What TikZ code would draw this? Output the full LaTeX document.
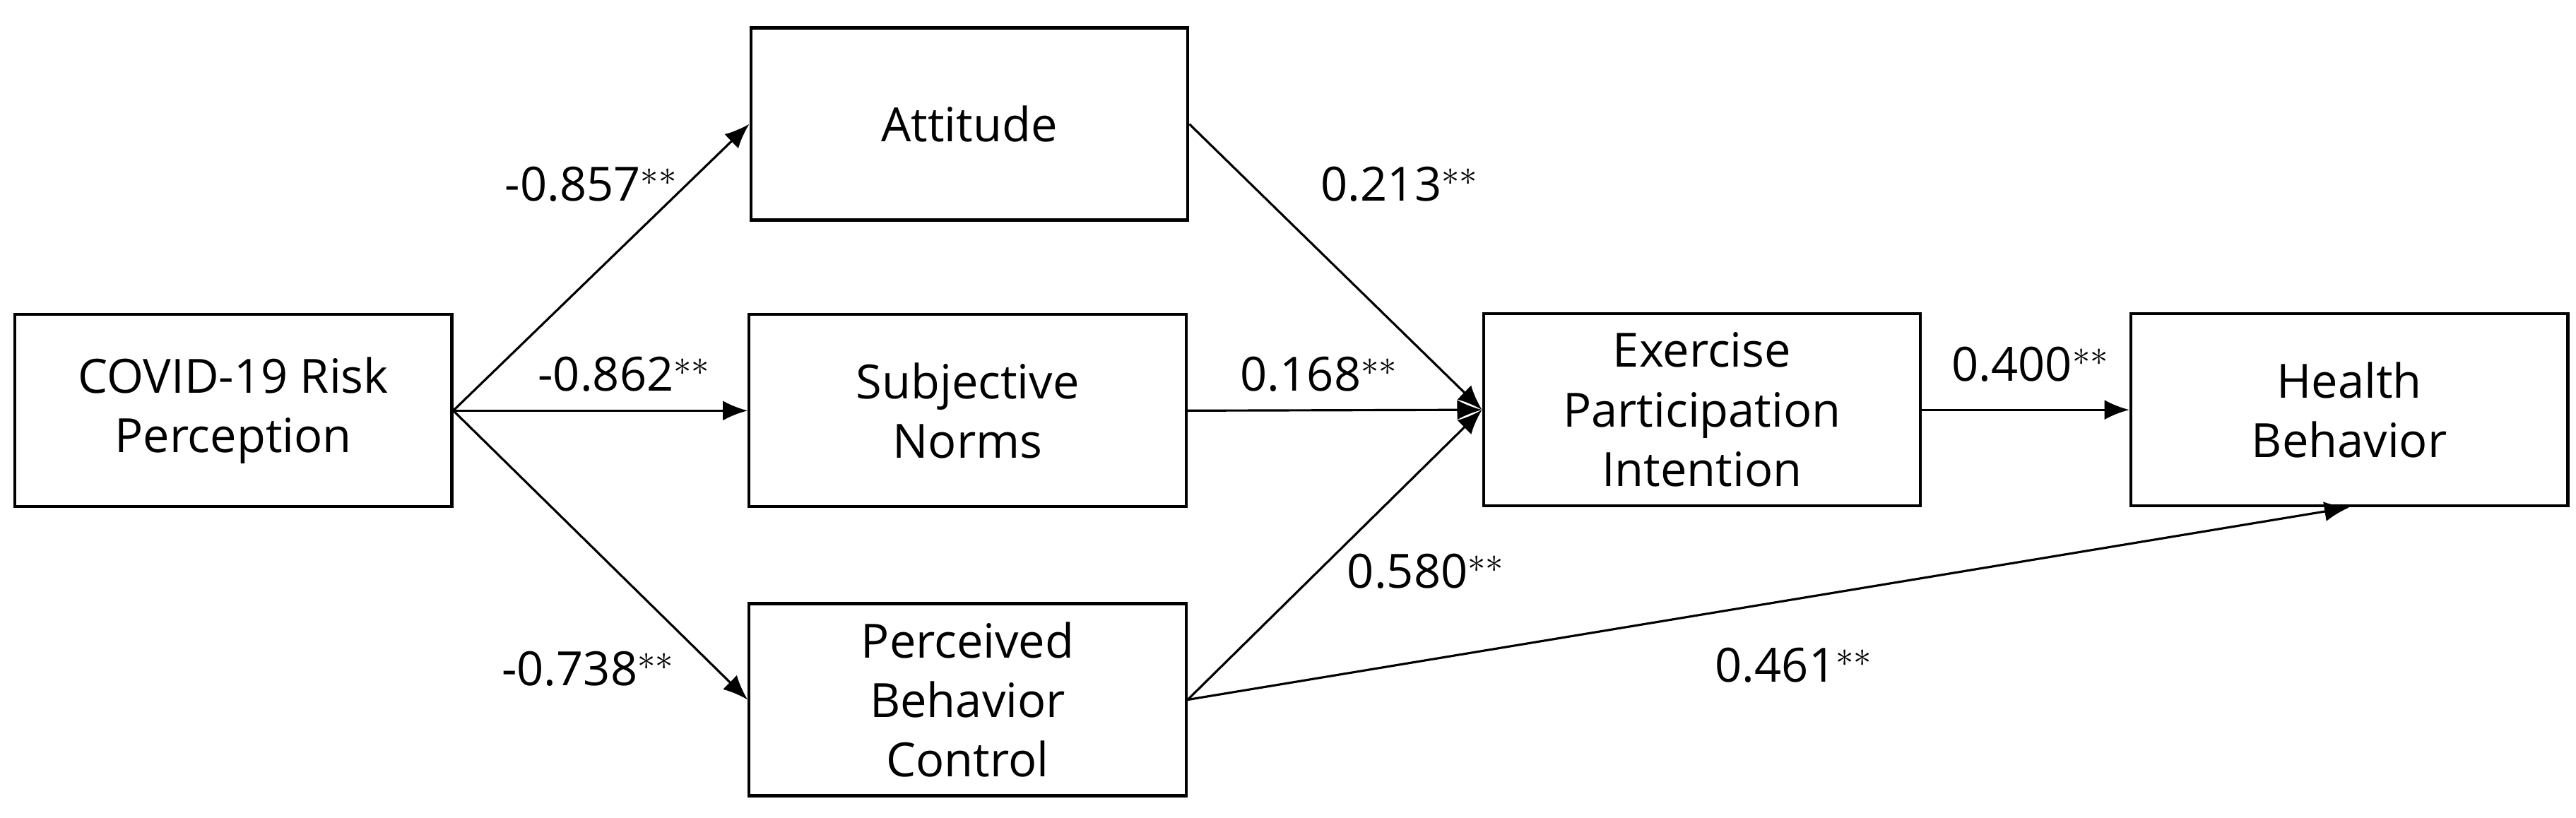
\documentclass[tikz,border=0pt]{standalone}
\usepackage{fontspec}
\setmainfont{Open Sans}
\usetikzlibrary{arrows.meta}
\begin{document}
\begin{tikzpicture}[x=0.02325cm,y=-0.02325cm,
  box/.style={draw,line width=1.2pt,minimum width=266*0.02325cm,minimum height=117*0.02325cm,align=center,font=\fontsize{19}{24}\selectfont,inner sep=0pt},
  arr/.style={line width=0.9pt,-{Latex[length=10pt,width=8pt]}},
  lab/.style={font=\fontsize{19}{24}\selectfont}]
\useasboundingbox (0,0) rectangle (1568,498);
\node[box] (c) at (142,250) {COVID-19 Risk\\Perception};
\node[box] (a) at (590,75.5) {Attitude};
\node[box] (s) at (589,250) {Subjective\\Norms};
\node[box] (p) at (589,426) {Perceived\\Behavior\\Control};
\node[box] (e) at (1036,249.5) {Exercise\\Participation\\Intention};
\node[box] (h) at (1430,249.5) {Health\\Behavior};
\draw[arr] (c.east) -- (a.west);
\draw[arr] (c.east) -- (s.west);
\draw[arr] (c.east) -- (p.west);
\draw[arr] (a.east) -- (e.west);
\draw[arr] (s.east) -- (e.west);
\draw[arr] (p.east) -- (e.west);
\draw[arr] (e.east) -- (h.west);
\draw[arr] (p.east) -- (h.south);
\node[lab] (l1) at (360,112) {-0.857$^{**}$};
\node[lab] (l2) at (380,228) {-0.862$^{**}$};
\node[lab] (l3) at (358,407) {-0.738$^{**}$};
\node[lab] (l4) at (852,112) {0.213$^{**}$};
\node[lab] (l5) at (803,228) {0.168$^{**}$};
\node[lab] (l6) at (868,348) {0.580$^{**}$};
\node[lab] (l7) at (1236,222) {0.400$^{**}$};
\node[lab] (l8) at (1092,405) {0.461$^{**}$};
\end{tikzpicture}
\end{document}
